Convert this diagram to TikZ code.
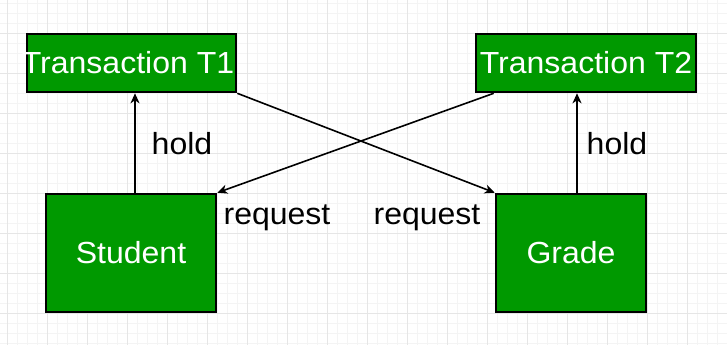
\documentclass[tikz,border=0pt]{standalone}
\usepackage{fontspec}
\setmainfont{Liberation Sans}[FakeStretch=1.05]
\usetikzlibrary{arrows.meta,calc}
\definecolor{boxgreen}{HTML}{009900}
\definecolor{gridminor}{HTML}{F4F4F4}
\definecolor{gridmajor}{HTML}{E6E6E6}
\tikzset{
  box/.style={draw=black, line width=2.6pt, fill=boxgreen, inner sep=0pt,
    text=white, font=\fontsize{30.5}{34}\selectfont},
  lbl/.style={inner sep=0pt, anchor=base, font=\fontsize{30.5}{34}\selectfont},
  arr/.style={line width=1.6pt, -{Stealth[length=10pt,width=9pt,inset=3pt]}},
}
\begin{document}
\begin{tikzpicture}[x=1pt,y=-1pt]
\useasboundingbox (0,0) rectangle (727,345);
% grid
\foreach \x in {7,17,...,727} \draw[gridminor, line width=0.8pt] (\x,0) -- (\x,345);
\foreach \y in {3,13,...,345} \draw[gridminor, line width=0.8pt] (0,\y) -- (727,\y);
\foreach \x in {7,47,...,727} \draw[gridmajor, line width=0.8pt] (\x,0) -- (\x,345);
\foreach \y in {33,73,...,345} \draw[gridmajor, line width=0.8pt] (0,\y) -- (727,\y);
% boxes
\node[box, minimum width=209pt, minimum height=58pt] (t1) at (131.5,63) {};
\node[text=white, inner sep=0pt, font=\fontsize{30.5}{34}\selectfont] (t1text) at (128,63) {Transaction T1};
\node[box, minimum width=220pt, minimum height=58pt] (t2) at (586,63) {Transaction T2};
\node[box, minimum width=170pt, minimum height=118pt] (student) at (131,253) {Student};
\node[box, minimum width=150pt, minimum height=118pt] (grade) at (571,253) {Grade};
% connectors
\draw[arr] ([xshift=4pt]student.north) -- ([xshift=4pt]student.north |- t1.south);
\draw[arr] ([xshift=6pt]grade.north) -- ([xshift=6pt]grade.north |- t2.south);
\draw[arr] (t1.south east) -- (grade.north west);
\draw[arr] ([xshift=19pt]t2.south west) -- (student.north east);
% labels
\node[lbl] (hold1) at (182,154) {hold};
\node[lbl] (hold2) at (617,154) {hold};
\node[lbl] (req1) at (277,224) {request};
\node[lbl] (req2) at (427,224) {request};
\end{tikzpicture}
\end{document}
